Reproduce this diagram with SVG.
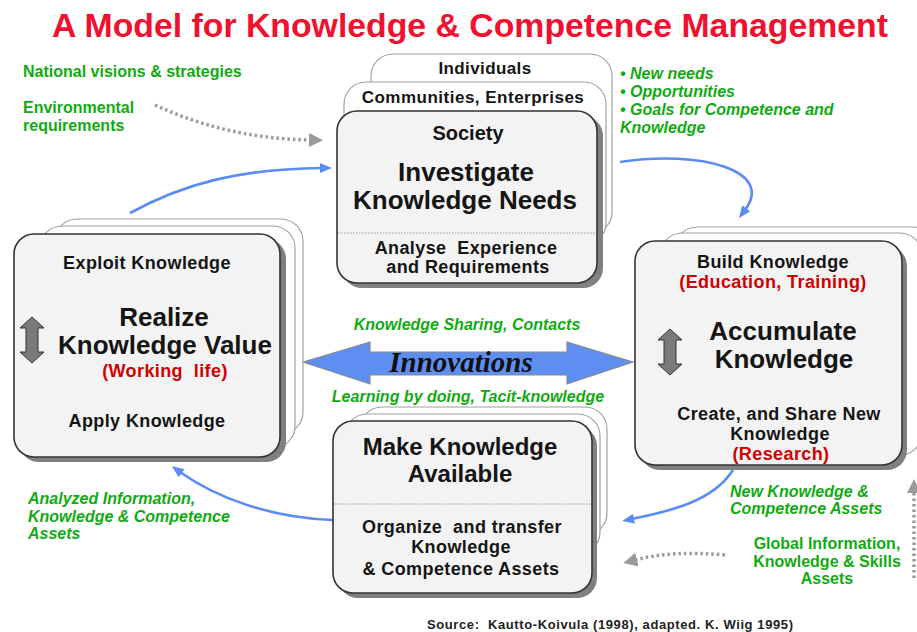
<svg xmlns="http://www.w3.org/2000/svg" width="917" height="632" viewBox="0 0 917 632">
  <style>
    .card { fill: #ffffff; stroke: #a0a0a0; stroke-width: 1.2; }
    .box { fill: #f3f3f3; stroke: #333333; stroke-width: 1.6; }
    .shadow { fill: #808080; }
    .sep { stroke: #9a9a9a; stroke-width: 1; stroke-dasharray: 1.5 1.5; }
    .t { font-family: "Liberation Sans", Arial, sans-serif; font-weight: bold; fill: #151515; text-anchor: middle; }
    .big { font-size: 26px; }
    .mid { font-size: 18px; letter-spacing: 0.4px; }
    .red { fill: #d00000; }
    .g { font-family: "Liberation Sans", Arial, sans-serif; font-weight: bold; fill: #12aa12; font-size: 16px; }
    .gi { font-style: italic; }
    .flow { fill: none; stroke: #5a8cf5; stroke-width: 2.6; marker-end: url(#blueHead); }
    .dots { fill: none; stroke: #9a9a9a; stroke-width: 3.5; stroke-dasharray: 2.5 3; marker-end: url(#grayHead); }
    .dbl { fill: #7a7a7a; stroke: #333333; stroke-width: 1; }
  </style>
  <defs>
    <marker id="blueHead" viewBox="0 0 12 10" refX="2" refY="5" markerWidth="12" markerHeight="10" markerUnits="userSpaceOnUse" orient="auto">
      <path d="M0,0 L12,5 L0,10 Z" fill="#5a8cf5"/>
    </marker>
    <marker id="grayHead" viewBox="0 0 14 14" refX="2" refY="7" markerWidth="14" markerHeight="14" markerUnits="userSpaceOnUse" orient="auto">
      <path d="M0,0 L14,7 L0,14 Z" fill="#9a9a9a"/>
    </marker>
    <path id="updown" d="M0,-23 L12,-12 L6,-12 L6,12 L12,12 L0,23 L-12,12 L-6,12 L-6,-12 L-12,-12 Z"/>
  </defs>

  <rect width="917" height="632" fill="#ffffff"/>

  <!-- Title -->
  <text x="52" y="37" font-family="Liberation Sans, Arial, sans-serif" font-weight="bold" font-size="33" fill="#f01030" textLength="836" lengthAdjust="spacingAndGlyphs">A Model for Knowledge &amp; Competence Management</text>

  <!-- Connectors -->
  <g id="connectors">
    <path class="flow" d="M130,213 C185,183 240,169 322,168"/>
    <path class="flow" d="M620,162 C700,150 775,170 745,210"/>
    <path class="flow" d="M733,470 C712,503 665,512 632,519"/>
    <path class="flow" d="M333,520 C270,518 215,497 180,472"/>
    <path class="dots" d="M155,105 C205,128 255,139 311,140"/>
    <path class="dots" d="M725,555 C690,552 662,553 635,560"/>
    <path class="dots" d="M914,578 L914,491"/>
    <polygon points="303,362 370,342 370,352 567,352 567,342 633,362 567,384 567,375 370,375 370,384" fill="#5e8ff0" stroke="#8a8a8a" stroke-width="1.2"/>
    <text x="461" y="372" font-family="Liberation Serif, Times New Roman, serif" font-weight="bold" font-style="italic" font-size="29" fill="#111" text-anchor="middle">Innovations</text>
  </g>

  <!-- Investigate node -->
  <g id="investigate">
    <rect class="card" x="371" y="54" width="241" height="180" rx="22"/>
    <rect class="card" x="344" y="82" width="262" height="163" rx="22"/>
    <rect class="shadow" x="342" y="116" width="261" height="172" rx="20"/>
    <rect class="box" x="337" y="111" width="260" height="172" rx="20"/>
    <line class="sep" x1="338" y1="233" x2="596" y2="233"/>
    <text class="t" x="485" y="74" font-size="17" letter-spacing="0.4">Individuals</text>
    <text class="t" x="473" y="103" font-size="17" letter-spacing="0.5">Communities, Enterprises</text>
    <text class="t" x="468" y="140" font-size="20">Society</text>
    <text class="t big" x="466" y="181">Investigate</text>
    <text class="t big" x="465" y="209">Knowledge Needs</text>
    <text class="t mid" x="466" y="254" xml:space="preserve">Analyse  Experience</text>
    <text class="t mid" x="468" y="273">and Requirements</text>
  </g>

  <!-- Realize node -->
  <g id="realize">
    <rect class="card" x="55" y="219" width="248" height="215" rx="22"/>
    <rect class="card" x="40" y="226" width="255" height="222" rx="22"/>
    <rect class="shadow" x="19" y="239" width="267" height="223" rx="20"/>
    <rect class="box" x="14" y="234" width="266" height="223" rx="20"/>
    <use href="#updown" x="32" y="340" class="dbl"/>
    <text class="t mid" x="147" y="269">Exploit Knowledge</text>
    <text class="t big" x="164" y="326">Realize</text>
    <text class="t big" x="165" y="354">Knowledge Value</text>
    <text class="t mid red" x="165" y="377" xml:space="preserve">(Working  life)</text>
    <text class="t mid" x="147" y="427">Apply Knowledge</text>
  </g>

  <!-- Accumulate node -->
  <g id="accumulate">
    <rect class="card" x="675" y="227" width="260" height="215" rx="22"/>
    <rect class="card" x="660" y="233" width="262" height="222" rx="22"/>
    <rect class="shadow" x="640" y="246" width="267" height="224" rx="20"/>
    <rect class="box" x="635" y="241" width="267" height="224" rx="20"/>
    <use href="#updown" x="670" y="352" class="dbl"/>
    <text class="t mid" x="773" y="268">Build Knowledge</text>
    <text class="t mid red" x="773" y="288">(Education, Training)</text>
    <text class="t big" x="783" y="340">Accumulate</text>
    <text class="t big" x="784" y="368">Knowledge</text>
    <text class="t mid" x="779" y="420">Create, and Share New</text>
    <text class="t mid" x="780" y="440">Knowledge</text>
    <text class="t mid red" x="781" y="460">(Research)</text>
  </g>

  <!-- Make available node -->
  <g id="available">
    <rect class="card" x="360" y="407" width="247" height="128" rx="22"/>
    <rect class="card" x="345" y="414" width="255" height="140" rx="22"/>
    <rect class="shadow" x="338" y="426" width="259" height="172" rx="20"/>
    <rect class="box" x="333" y="421" width="259" height="172" rx="20"/>
    <line class="sep" x1="334" y1="504" x2="591" y2="504"/>
    <text class="t" x="460" y="455" font-size="24">Make Knowledge</text>
    <text class="t" x="460" y="482" font-size="24">Available</text>
    <text class="t mid" x="462" y="533" xml:space="preserve">Organize  and transfer</text>
    <text class="t mid" x="461" y="553">Knowledge</text>
    <text class="t mid" x="461" y="575">&amp; Competence Assets</text>
  </g>

  <!-- Labels -->
  <g id="labels">
    <text class="g" x="23" y="77">National visions &amp; strategies</text>
    <text class="g" x="23" y="113">Environmental</text>
    <text class="g" x="23" y="131">requirements</text>
    <text class="g gi" x="620" y="79">• New needs</text>
    <text class="g gi" x="620" y="97">• Opportunities</text>
    <text class="g gi" x="620" y="115">• Goals for Competence and</text>
    <text class="g gi" x="620" y="133">Knowledge</text>
    <text class="g gi" x="467" y="330" text-anchor="middle">Knowledge Sharing, Contacts</text>
    <text class="g gi" x="468" y="402" text-anchor="middle">Learning by doing, Tacit-knowledge</text>
    <text class="g gi" x="730" y="497">New Knowledge &amp;</text>
    <text class="g gi" x="730" y="514">Competence Assets</text>
    <text class="g" x="827" y="549" text-anchor="middle">Global Information,</text>
    <text class="g" x="827" y="567" text-anchor="middle">Knowledge &amp; Skills</text>
    <text class="g" x="827" y="584" text-anchor="middle">Assets</text>
    <text class="g gi" x="28" y="504">Analyzed Information,</text>
    <text class="g gi" x="28" y="522">Knowledge &amp; Competence</text>
    <text class="g gi" x="28" y="539">Assets</text>
  </g>

  <text x="427" y="629" font-family="Liberation Sans, Arial, sans-serif" font-weight="bold" font-size="13" fill="#222" textLength="366" xml:space="preserve">Source:  Kautto-Koivula (1998), adapted. K. Wiig 1995)</text>
</svg>
